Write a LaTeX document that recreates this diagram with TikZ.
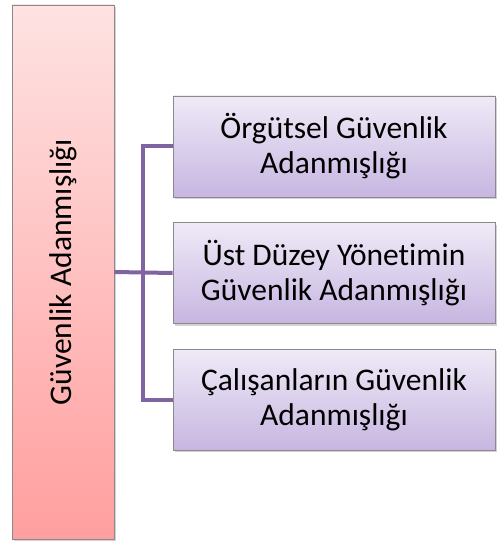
\documentclass[tikz,border=0pt]{standalone}
\usepackage{fontspec}
\setmainfont{Carlito}[Ligatures=NoCommon]
\usetikzlibrary{shadows}
\definecolor{pinktop}{HTML}{FFE2E2}
\definecolor{pinkbot}{HTML}{FF9F9F}
\definecolor{lavtop}{HTML}{EFEAF7}
\definecolor{lavbot}{HTML}{C7B6E1}
\definecolor{conncol}{HTML}{8064A2}
\definecolor{bordercol}{HTML}{8A8A8A}
\tikzset{
  leftbox/.style={draw=bordercol, line width=0.8pt, top color=pinktop, bottom color=pinkbot,
    minimum width=102pt, minimum height=534pt, inner sep=0pt,
    drop shadow={shadow xshift=1.5pt, shadow yshift=-2pt, opacity=0.35}},
  rightbox/.style={draw=bordercol, line width=0.8pt, top color=lavtop, bottom color=lavbot,
    minimum width=322pt, minimum height=101pt, inner sep=0pt, align=center,
    font=\fontsize{31.5}{35}\selectfont,
    drop shadow={shadow xshift=1.5pt, shadow yshift=-2pt, opacity=0.35}},
  conn/.style={draw=conncol, line width=4pt},
  vtext/.style={rotate=90, font=\fontsize{31.5}{35}\selectfont}
}
\begin{document}
\begin{tikzpicture}[x=1pt,y=-1pt]
\useasboundingbox (0,0) rectangle (497,545);
\node[leftbox] (L) at (63,272) {};
\node[vtext] (Lt) at (L.center) {Güvenlik Adanmışlığı};
\node[rightbox] (R1) at (334,146.5) {Örgütsel Güvenlik\\Adanmışlığı};
\node[rightbox] (R2) at (334,273) {Üst Düzey Yönetimin\\Güvenlik Adanmışlığı};
\node[rightbox] (R3) at (334,399.5) {Çalışanların Güvenlik\\Adanmışlığı};
\coordinate (J) at (143,272);
\draw[conn] (L.east) -- (R2.west);
\draw[conn, line join=miter] (R1.west) -- (J |- R1.west) -- (J |- R3.west) -- (R3.west);
\end{tikzpicture}
\end{document}
